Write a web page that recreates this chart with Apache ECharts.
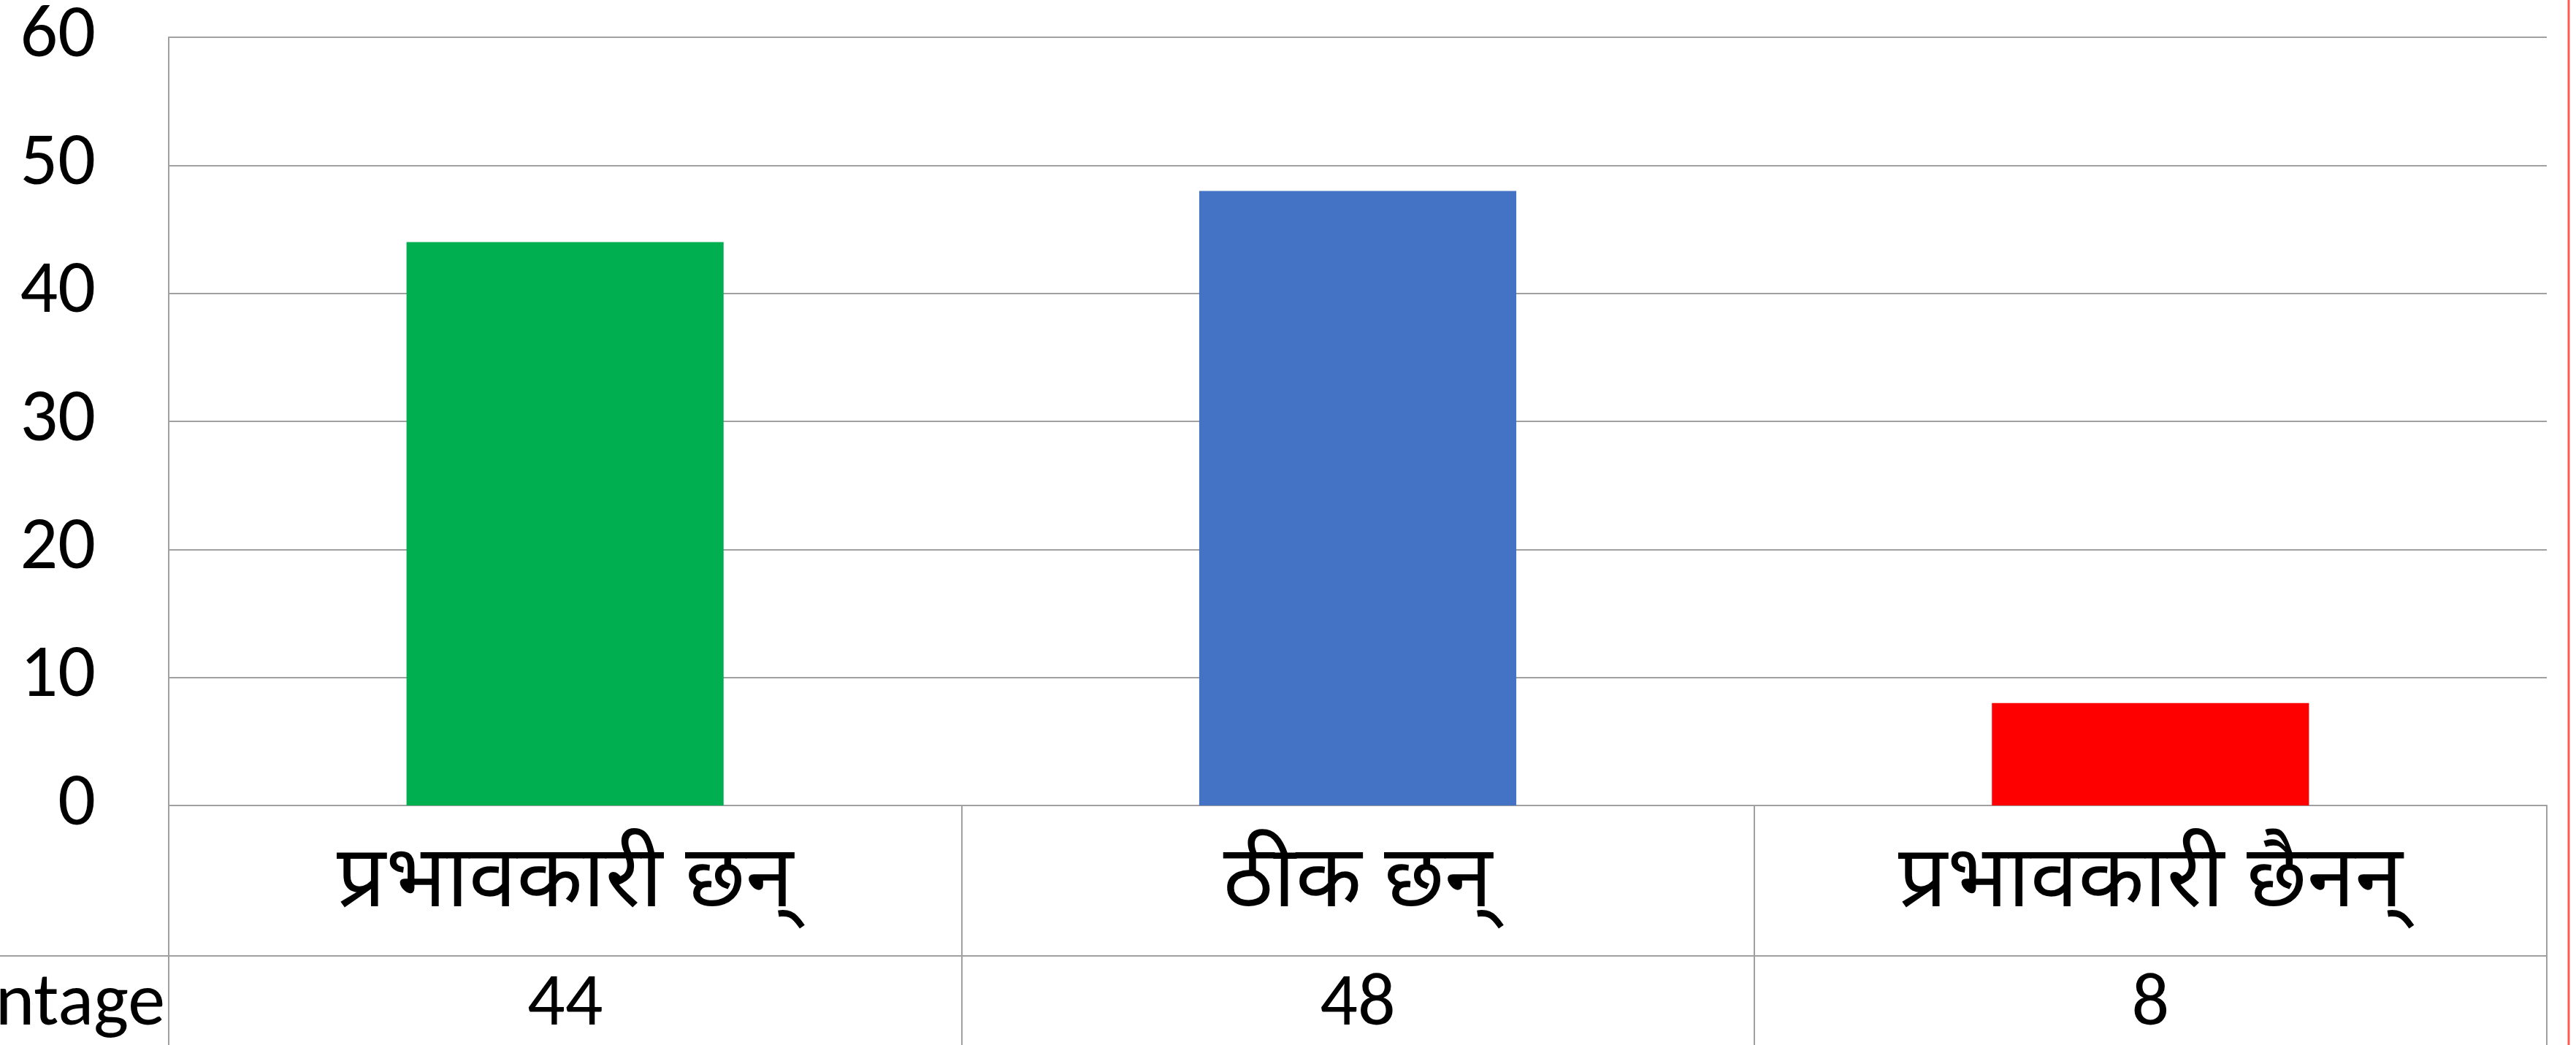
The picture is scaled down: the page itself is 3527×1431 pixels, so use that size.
<!DOCTYPE html>
<html>
<head>
<meta charset="utf-8">
<script src="https://cdn.jsdelivr.net/npm/echarts@6/dist/echarts.min.js"></script>
<style>
  html, body { margin: 0; padding: 0; background: #fff; }
  #chart { width: 3527px; height: 1431px; }
</style>
</head>
<body>
<div id="chart"></div>
<script>
  // data
  var categories = ['प्रभावकारी छन्', 'ठीक छन्', 'प्रभावकारी छैनन्']
  var values = [44, 48, 8]
  var seriesName = 'Percentage'
  var yTicks = { min: 0, max: 60, interval: 10 }

  var barColors = ['#00b050', '#4472c4', '#ff0000']
  var lineColor = '#a0a0a0'
  var latin = 'Carlito, Calibri, Lato, sans-serif'
  var deva = "'Noto Sans Devanagari', 'Lohit Devanagari', Mangal, 'Nirmala UI', FreeSans, sans-serif"

  var chart = echarts.init(document.getElementById('chart'))

  chart.setOption({
    animation: false,
    backgroundColor: '#fff',
    grid: {
      left: 231,
      right: 40,
      top: 49,
      bottom: 328,
    },
    xAxis: [
      {
        type: 'category',
        data: categories,
        position: 'bottom',
        axisLine: { show: true, lineStyle: { color: lineColor, width: 2 } },
        axisTick: {
          show: true,
          interval: 0,
          length: 330,
          lineStyle: { color: lineColor, width: 2 },
        },
        axisLabel: {
          interval: 0,
          margin: 116,
          verticalAlign: 'middle',
          color: '#000',
          fontSize: 118,
          fontFamily: deva,
        },
        splitLine: { show: false },
      },
      {
        type: 'category',
        data: values.map(String),
        position: 'bottom',
        offset: 206,
        axisLine: { show: true, lineStyle: { color: lineColor, width: 2 } },
        axisTick: { show: false },
        axisLabel: {
          interval: 0,
          margin: 68,
          verticalAlign: 'middle',
          color: '#000',
          fontSize: 102,
          fontFamily: latin,
        },
      },
    ],
    yAxis: {
      type: 'value',
      min: yTicks.min,
      max: yTicks.max,
      interval: yTicks.interval,
      axisLine: { show: true, lineStyle: { color: lineColor, width: 2 } },
      axisTick: { show: false },
      axisLabel: {
        margin: 100,
        color: '#000',
        fontSize: 102,
        fontFamily: latin,
      },
      splitLine: { show: true, lineStyle: { color: lineColor, width: 2 } },
    },
    graphic: [
      {
        type: 'line',
        shape: { x1: 0, y1: 1309, x2: 231, y2: 1309 },
        style: { stroke: lineColor, lineWidth: 2 },
      },
      {
        type: 'text',
        x: 226,
        y: 1377,
        style: {
          text: seriesName,
          align: 'right',
          verticalAlign: 'middle',
          fill: '#000',
          fontSize: 102,
          fontFamily: latin,
        },
      },
      {
        type: 'line',
        shape: { x1: 3517, y1: 0, x2: 3517, y2: 1431 },
        style: { stroke: '#ff5a52', lineWidth: 3 },
      },
    ],
    series: [
      {
        name: seriesName,
        type: 'bar',
        barWidth: '40%',
        data: values.map(function (v, i) {
          return { value: v, itemStyle: { color: barColors[i] } }
        }),
      },
    ],
  })
</script>
</body>
</html>
